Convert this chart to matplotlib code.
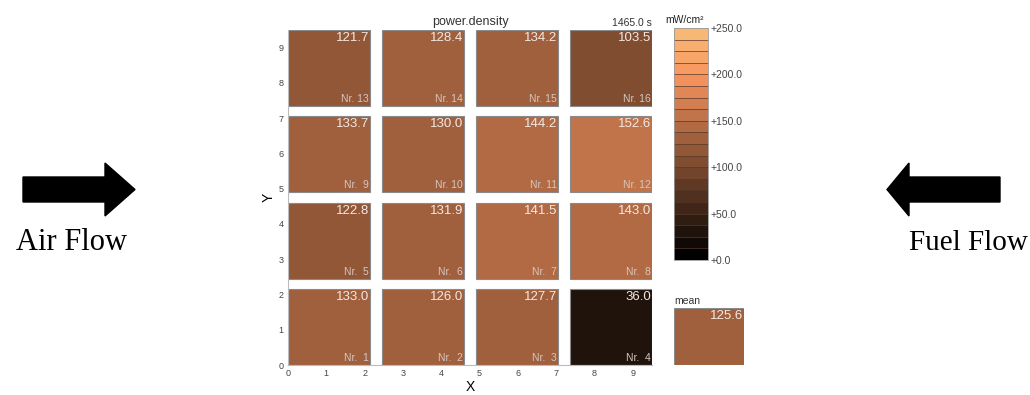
import numpy as np
import matplotlib
matplotlib.use('Agg')
import matplotlib.pyplot as plt
from matplotlib.colors import BoundaryNorm, ListedColormap
from matplotlib.patches import Rectangle, FancyArrow
import matplotlib.colorbar as mcolorbar

plt.rcParams['font.family'] = ['Liberation Sans', 'DejaVu Sans']

# Daten: Leistungsdichte pro Zelle (Nr. 1..16, Zeile fuer Zeile von unten links)
cell_nr = list(range(1, 17))
power = [133.0, 126.0, 127.7, 36.0,
         122.8, 131.9, 141.5, 143.0,
         133.7, 130.0, 144.2, 152.6,
         121.7, 128.4, 134.2, 103.5]
mean_power = np.mean(power)
time_s = 1465.0
cb_ticks = [0, 50, 100, 150, 200, 250]
axis_ticks = list(range(10))

# Farbskala (20 Stufen, 0..250 mW/cm2), etwas gedaempftes "copper"
levels = np.linspace(0, 250, 21)
base = plt.get_cmap('copper')(np.linspace(0, 1, 20))
base[:, :3] = base[:, :3] * np.array([0.97, 0.92, 0.92])
cmap = ListedColormap(base)
norm = BoundaryNorm(levels, cmap.N)

fig = plt.figure(figsize=(10.30, 3.95), dpi=100)

# Hintergrund fuer Pfeile und Beschriftung (Pixelkoordinaten)
bg = fig.add_axes([0, 0, 1, 1])
bg.set_xlim(0, 1030)
bg.set_ylim(395, 0)
bg.axis('off')
bg.add_patch(FancyArrow(23, 189.5, 112, 0, width=25, head_width=53, head_length=30,
                        length_includes_head=True, color='black'))
bg.add_patch(FancyArrow(1000, 189.5, -113, 0, width=25, head_width=53, head_length=22,
                        length_includes_head=True, color='black'))
bg.text(72, 243, 'Air Flow', fontsize=22, family='Liberation Serif', ha='center', va='center')
bg.text(968, 243, 'Fuel Flow', fontsize=21, family='Liberation Serif', ha='center', va='center')

# Hauptdiagramm
ax = fig.add_axes([0.2796, 0.0759, 0.3534, 0.848])
pitch = 2.45
size = 2.15
for i, (nr, val) in enumerate(zip(cell_nr, power)):
    col = i % 4
    row = i // 4
    x0 = col * pitch
    y0 = row * pitch
    ax.add_patch(Rectangle((x0, y0), size, size, facecolor=cmap(norm(val)),
                           edgecolor='#8a8a8a', linewidth=0.8))
    ax.text(x0 + size - 0.03, y0 + size - 0.05, '%.1f' % val, ha='right', va='top',
            fontsize=9.5, color='#f4e8e2')
    ax.text(x0 + size - 0.03, y0 + 0.05, 'Nr. %2d' % nr, ha='right', va='bottom',
            fontsize=7.5, color='#d5c6bf')

ax.set_xlim(0, 9.5)
ax.set_ylim(0, 9.5)
ax.set_xticks(axis_ticks)
ax.set_yticks(axis_ticks)
ax.tick_params(length=0, labelsize=6.5, labelcolor='#444444', pad=3)
for s in ['top', 'right']:
    ax.spines[s].set_visible(False)
for s in ['left', 'bottom']:
    ax.spines[s].set_color('#bbbbbb')
    ax.spines[s].set_linewidth(0.8)
ax.set_xlabel('X', fontsize=10, labelpad=1)
ax.set_ylabel('Y', fontsize=10, labelpad=2)
ax.set_title('power.density', fontsize=9, color='#333333', pad=4)
ax.text(9.5, 9.55, '%.1f s' % time_s, ha='right', va='bottom', fontsize=7.5, color='#333333')

# Farbbalken
cax = fig.add_axes([0.6544, 0.3418, 0.033, 0.587])
cb = mcolorbar.ColorbarBase(cax, cmap=cmap, norm=norm, boundaries=levels,
                            ticks=cb_ticks, drawedges=True)
cb.dividers.set_color('#5a3a28')
cb.dividers.set_linewidth(0.5)
cb.outline.set_edgecolor('#999999')
cb.outline.set_linewidth(0.6)
cb.set_ticklabels(['+%.1f' % t for t in cb_ticks])
cax.minorticks_off()
cax.tick_params(which='both', length=0, labelsize=7.5, labelcolor='#444444', pad=2)
cax.set_title('mW/cm²', fontsize=7.5, color='#222222', pad=4, loc='left', x=-0.25)

# Mittelwert
mx = fig.add_axes([0.6544, 0.0759, 0.068, 0.1443])
mx.set_xlim(0, 1)
mx.set_ylim(0, 1)
mx.axis('off')
mx.add_patch(Rectangle((0, 0), 1, 1, facecolor=cmap(norm(mean_power)),
                       edgecolor='#8a8a8a', linewidth=0.8))
mx.text(0.99, 0.97, '%.1f' % mean_power, ha='right', va='top', fontsize=9.5, color='#f4e8e2')
mx.text(0, 1.04, 'mean', ha='left', va='bottom', fontsize=7.5, color='#333333')

fig.savefig('out.png', dpi=100)
